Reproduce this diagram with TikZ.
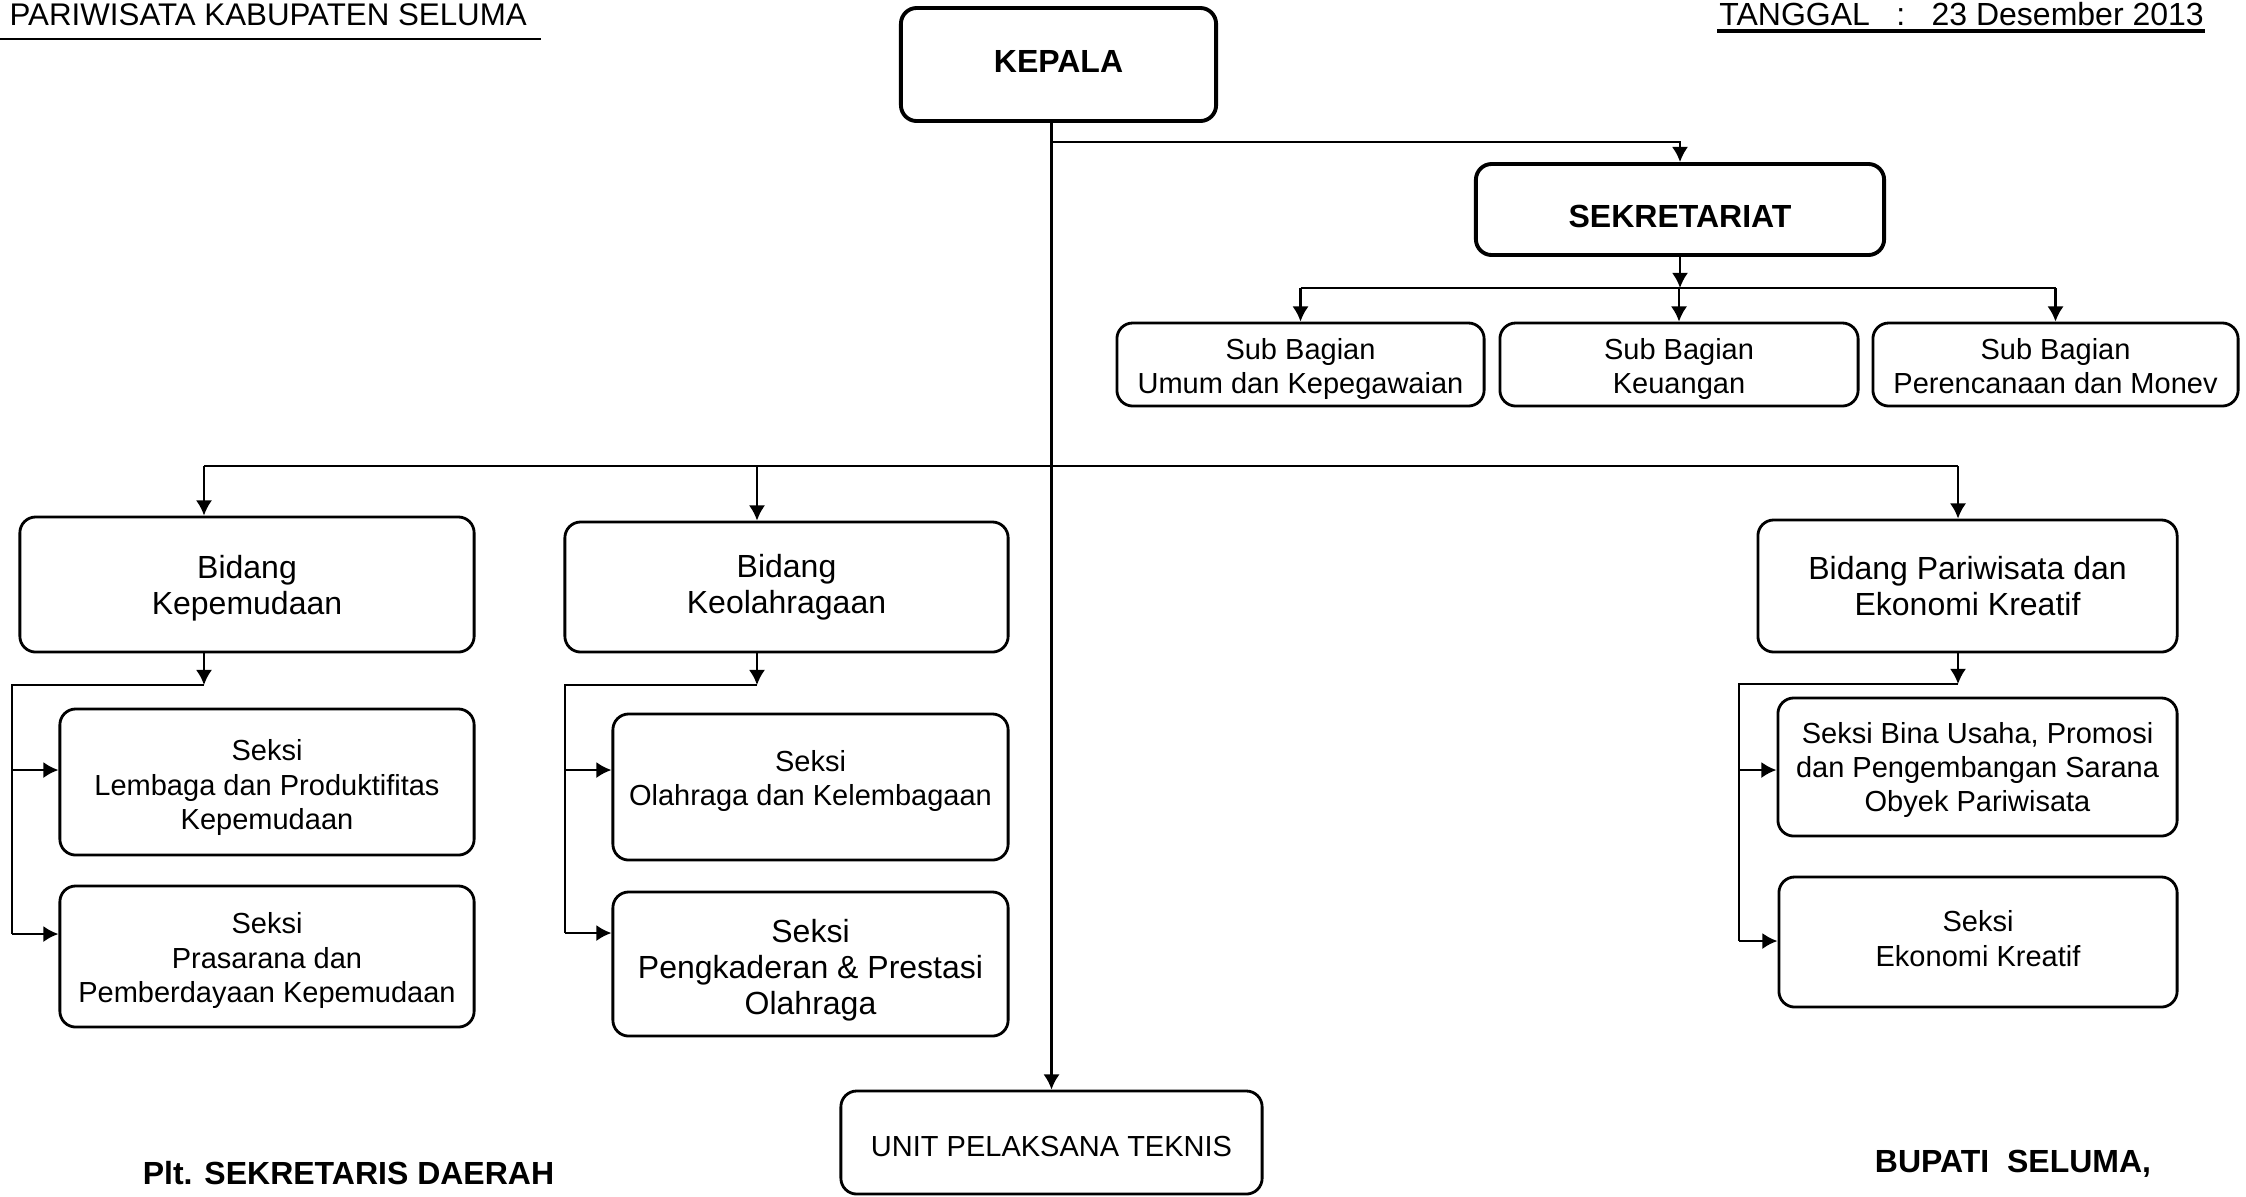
\documentclass[tikz,border=0pt]{standalone}
\usepackage{fontspec}
\setmainfont{Liberation Sans}
\usetikzlibrary{calc,arrows.meta,positioning}

\newcommand\fsmall{\fontsize{8.25pt}{9.7pt}\selectfont}
\newcommand\fbig{\fontsize{9.1pt}{10.3pt}\selectfont}
\newcommand\fhead{\fontsize{8.9pt}{10pt}\selectfont}
\newcommand\txtlift[1]{\rule{0pt}{#1}}

\begin{document}
\begin{tikzpicture}[x=0.01cm,y=-0.01cm,inner sep=0pt,line width=0.7pt,>={Latex[length=4.3pt,width=4.6pt]},
  box/.style={draw,rounded corners=4.5pt,line width=0.8pt,align=center},
  sbox/.style={box,font=\fsmall},
  bbox/.style={box,font=\fbig},
  topbox/.style={box,line width=1.1pt,font=\fbig\bfseries},
  txtdrop/.style={execute at begin node={\rule{0pt}{#1}}},
  txtrise/.style={execute at end node={\rule[-#1]{0pt}{0pt}}}]
\useasboundingbox (0,0) rectangle (2246,1196);

% kepala surat
\node [font=\fhead,anchor=base east] (hdrKiri) at (528,25) {PARIWISATA KABUPATEN SELUMA};
\node [font=\fbig,anchor=base east] (hdrKanan) at (2205,25) {TANGGAL\hspace{7.5pt}:\hspace{7.5pt}23 Desember 2013};
\draw [line width=0.6pt] (0,39) -- (541,39);
\draw [line width=0.9pt] (1717,31) -- (2205,31);

% kepala dan sekretariat
\node [topbox,txtrise=1.6pt,minimum width=3.15cm,minimum height=1.13cm] (kepala) at (1058.5,64.5) {KEPALA};
\node [topbox,txtdrop=10.5pt,minimum width=4.08cm,minimum height=0.91cm] (sekre) at (1680,209.5) {SEKRETARIAT};

% sub bagian
\node [sbox,minimum width=3.67cm,minimum height=0.83cm] (sbUmum) at (1300.5,364.5) {\txtlift{8.3pt}Sub Bagian\\Umum dan Kepegawaian};
\node [sbox,minimum width=3.58cm,minimum height=0.83cm] (sbKeu)  at (1679,364.5)   {\txtlift{8.3pt}Sub Bagian\\Keuangan};
\node [sbox,minimum width=3.65cm,minimum height=0.83cm] (sbRenc) at (2055.5,364.5) {\txtlift{6.7pt}Sub Bagian\\Perencanaan dan Monev};

% bidang
\node [bbox,minimum width=4.54cm,minimum height=1.35cm] (bdPemuda) at (247,584.5)  {\txtlift{8.9pt}Bidang\\Kepemudaan};
\node [bbox,minimum width=4.43cm,minimum height=1.30cm] (bdOlga)   at (786.5,587)  {Bidang\\Keolahragaan};
\node [bbox,minimum width=4.19cm,minimum height=1.32cm] (bdWisata) at (1967.5,586) {Bidang Pariwisata dan\\Ekonomi Kreatif};

% seksi
\node [sbox,minimum width=4.14cm,minimum height=1.46cm] (skLembaga)   at (267,782)    {\txtlift{9.1pt}Seksi\\Lembaga dan Produktifitas\\Kepemudaan};
\node [sbox,minimum width=4.14cm,minimum height=1.41cm] (skPrasarana) at (267,956.5)  {\txtlift{8.3pt}Seksi\\Prasarana dan\\Pemberdayaan Kepemudaan};
\node [sbox,txtrise=4.9pt,minimum width=3.95cm,minimum height=1.46cm] (skOlga) at (810.5,787) {Seksi\\Olahraga dan Kelembagaan};
\node [bbox,minimum width=3.95cm,minimum height=1.44cm] (skKader)     at (810.5,964)  {\txtlift{10.1pt}Seksi\\Pengkaderan \& Prestasi\\Olahraga};
\node [sbox,minimum width=3.99cm,minimum height=1.38cm] (skBina)      at (1977.5,767) {\txtlift{7.5pt}Seksi Bina Usaha, Promosi\\dan Pengembangan Sarana\\Obyek Pariwisata};
\node [sbox,txtrise=2pt,minimum width=3.98cm,minimum height=1.30cm] (skEkraf) at (1978,942) {Seksi\\Ekonomi Kreatif};

% upt
\node [sbox,txtdrop=8.3pt,minimum width=4.21cm,minimum height=1.03cm] (upt) at (1051.5,1142.5) {UNIT PELAKSANA TEKNIS};

% tanda tangan
\node [font=\fbig\bfseries] (plt)    at (348.5,1173) {Plt. SEKRETARIS DAERAH};
\node [font=\fbig\bfseries] (bupati) at (2013,1164)  {BUPATI\ \ SELUMA,};

% garis komando
\coordinate (ktop) at (kepala.south -| upt.north);
\draw [->] (ktop) -- (upt.north);
\draw [->] (ktop) ++(0,19) -| (sekre.north);

\coordinate (sbar) at (1680,288);
\draw [->] (sekre.south) -- (sbar);
\draw (sbUmum.north |- sbar) -- (sbRenc.north |- sbar);
\draw [->] (sbUmum.north |- sbar) -- (sbUmum.north);
\draw [->] (sbKeu.north |- sbar) -- (sbKeu.north);
\draw [->] (sbRenc.north |- sbar) -- (sbRenc.north);

\coordinate (dPemuda) at (204,466);
\coordinate (dOlga)   at (757,466);
\coordinate (dWisata) at (1958,466);
\draw (dPemuda) -- (dWisata);
\draw [->] (dPemuda) -- (dPemuda |- bdPemuda.north);
\draw [->] (dOlga) -- (dOlga |- bdOlga.north);
\draw [->] (dWisata) -- (dWisata |- bdWisata.north);

% seksi kepemudaan
\coordinate (jPemuda) at (204,685);
\coordinate (aLembaga) at (12,770);
\coordinate (aPrasarana) at (12,934);
\draw [->] (dPemuda |- bdPemuda.south) -- (jPemuda);
\draw (jPemuda) -| (aPrasarana);
\draw [->] (aLembaga) -- (aLembaga -| skLembaga.west);
\draw [->] (aPrasarana) -- (aPrasarana -| skPrasarana.west);

% seksi keolahragaan
\coordinate (jOlga) at (757,685);
\coordinate (aOlga) at (565,770);
\coordinate (aKader) at (565,933);
\draw [->] (dOlga |- bdOlga.south) -- (jOlga);
\draw (jOlga) -| (aKader);
\draw [->] (aOlga) -- (aOlga -| skOlga.west);
\draw [->] (aKader) -- (aKader -| skKader.west);

% seksi pariwisata
\coordinate (jWisata) at (1958,684);
\coordinate (aBina) at (1739,770);
\coordinate (aEkraf) at (1739,941);
\draw [->] (dWisata |- bdWisata.south) -- (jWisata);
\draw (jWisata) -| (aEkraf);
\draw [->] (aBina) -- (aBina -| skBina.west);
\draw [->] (aEkraf) -- (aEkraf -| skEkraf.west);
\end{tikzpicture}
\end{document}
